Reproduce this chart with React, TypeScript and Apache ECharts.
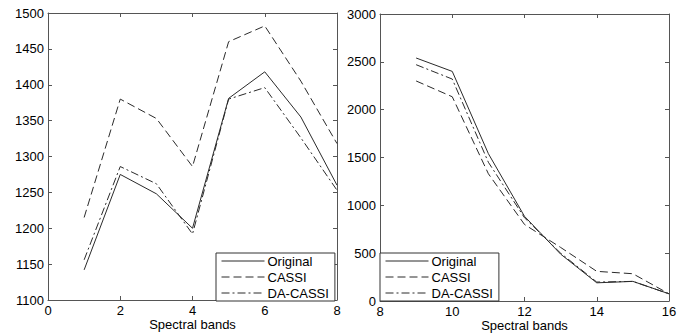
import React, { useEffect, useRef } from "react";
import * as echarts from "echarts";

const seriesNames = ["Original", "CASSI", "DA-CASSI"];

const leftBands = [1, 2, 3, 4, 5, 6, 7, 8];
const leftOriginal = [1142, 1275, 1248, 1200, 1381, 1418, 1355, 1260];
const leftCassi = [1215, 1380, 1353, 1286, 1460, 1482, 1405, 1318];
const leftDaCassi = [1156, 1286, 1262, 1192, 1380, 1396, 1326, 1253];

const rightBands = [9, 10, 11, 12, 13, 14, 15, 16];
const rightOriginal = [2540, 2400, 1540, 885, 490, 190, 205, 75];
const rightCassi = [2300, 2135, 1330, 800, 560, 310, 285, 75];
const rightDaCassi = [2470, 2320, 1450, 870, 500, 198, 205, 75];

const FONT = "Liberation Sans, Arial, sans-serif";
const AXIS_COLOR = "#555";
const LINE_COLOR = "#2a2a2a";

const lineTypes: any[] = ["solid", [8, 4], [8, 3, 2, 3]];

export default function App() {
  const ref = useRef<HTMLDivElement>(null);
  useEffect(() => {
    if (!ref.current) return;
    const chart = echarts.init(ref.current, undefined, { renderer: "svg" });

    const mkX = (gi: number, min: number, max: number, pos: string, labels: boolean, name?: string) => ({
      type: "value",
      gridIndex: gi,
      min,
      max,
      interval: 2,
      position: pos,
      name: name,
      nameLocation: "middle",
      nameGap: 18,
      nameMoveOverlap: false,
      nameTextStyle: { fontFamily: FONT, fontSize: 13, color: "#000" },
      axisLine: { show: true, onZero: false, lineStyle: { color: AXIS_COLOR, width: 1 } },
      axisTick: { show: true, inside: true, length: 4, lineStyle: { color: AXIS_COLOR } },
      axisLabel: { show: labels, fontFamily: FONT, fontSize: 13, color: "#000", margin: 4, formatter: (v: number) => String(v) },
      splitLine: { show: false },
    });
    const mkY = (gi: number, min: number, max: number, interval: number, pos: string, labels: boolean) => ({
      type: "value",
      gridIndex: gi,
      min,
      max,
      interval,
      position: pos,
      axisLine: { show: true, onZero: false, lineStyle: { color: AXIS_COLOR, width: 1 } },
      axisTick: { show: true, inside: true, length: 4, lineStyle: { color: AXIS_COLOR } },
      axisLabel: { show: labels, fontFamily: FONT, fontSize: 13, color: "#000", margin: 4, formatter: (v: number) => String(v) },
      splitLine: { show: false },
    });

    const mkSeries = (data: number[][][], xi: number, yi: number) =>
      data.map((vals, i) => ({
        name: seriesNames[i],
        type: "line",
        xAxisIndex: xi,
        yAxisIndex: yi,
        symbol: "none",
        data: vals,
        lineStyle: { color: LINE_COLOR, width: 1, type: lineTypes[i] },
        itemStyle: { color: LINE_COLOR },
      }));

    const pair = (xs: number[], ys: number[]) => xs.map((x, i) => [x, ys[i]]);

    const legendBase = {
      orient: "vertical",
      backgroundColor: "#fff",
      borderColor: "#333",
      borderWidth: 1,
      borderRadius: 0,
      padding: [1, 6, 1, 5],
      itemWidth: 43,
      itemHeight: 14,
      itemGap: 2,
      itemStyle: { color: "transparent", borderWidth: 0, opacity: 0 },
      lineStyle: { width: 1 },
      textStyle: { fontFamily: FONT, fontSize: 13, color: "#000", lineHeight: 14, padding: [0, 0, 0, -2] },
      data: seriesNames,
    };

    chart.setOption({
      animation: false,
      backgroundColor: "#fff",
      grid: [
        { left: 48, top: 13, width: 289, height: 287, outerBoundsMode: "none", containLabel: false },
        { left: 380, top: 14, width: 289, height: 287, outerBoundsMode: "none", containLabel: false },
      ],
      xAxis: [
        mkX(0, 0, 8, "bottom", true, "Spectral bands"),
        mkX(0, 0, 8, "top", false),
        mkX(1, 8, 16, "bottom", true, "Spectral bands"),
        mkX(1, 8, 16, "top", false),
      ],
      yAxis: [
        mkY(0, 1100, 1500, 50, "left", true),
        mkY(0, 1100, 1500, 50, "right", false),
        mkY(1, 0, 3000, 500, "left", true),
        mkY(1, 0, 3000, 500, "right", false),
      ],
      legend: [
        { ...legendBase, left: 216, top: 253 },
        { ...legendBase, left: 380, top: 253 },
      ],
      series: [
        ...mkSeries(
          [pair(leftBands, leftOriginal), pair(leftBands, leftCassi), pair(leftBands, leftDaCassi)],
          0,
          0
        ),
        ...mkSeries(
          [pair(rightBands, rightOriginal), pair(rightBands, rightCassi), pair(rightBands, rightDaCassi)],
          2,
          2
        ),
      ],
    });
    return () => chart.dispose();
  }, []);
  return (
    <div
      ref={ref}
      style={{ position: "fixed", left: 0, top: 0, width: 689, height: 333, background: "#fff" }}
    />
  );
}
